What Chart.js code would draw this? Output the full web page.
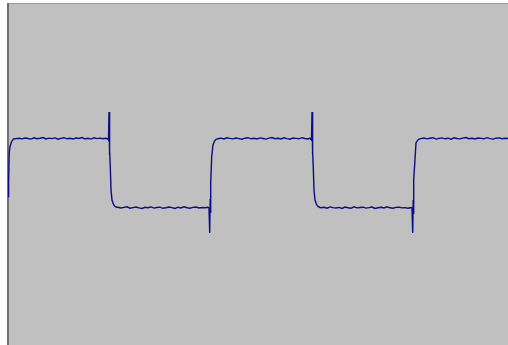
<!DOCTYPE html>
<html>
<head>
<meta charset="utf-8">
<script src="https://cdn.jsdelivr.net/npm/chart.js@4.4.1/dist/chart.umd.min.js"></script>
<style>
  html, body { margin: 0; padding: 0; background: #ffffff; }
  #scope { display: block; }
</style>
</head>
<body>
<canvas id="scope" width="508" height="345"></canvas>
<script>
// time axis (us) and trace (mV)
const traceTime = [
  0.3, 0.6, 1.2, 2, 3.5, 5.5,
  8, 11, 14, 17, 20, 23, 26, 29, 32, 35, 38, 41, 44, 47, 50, 53, 56, 59, 62, 65, 68, 71, 74, 77, 80, 83, 86, 89, 92, 95, 98, 100,
  100.5, 101, 101.3, 101.6, 101.9, 102.3, 103, 104, 105.5, 107, 109,
  110, 113, 116, 119, 122, 125, 128, 131, 134, 137, 140, 143, 146, 149, 152, 155, 158, 161, 164, 167, 170, 173, 176, 179, 182, 185, 188, 191, 194, 197, 200,
  201, 201.5, 201.9, 202.2, 202.5, 202.9, 203.7, 205, 206.5, 208,
  210, 213, 216, 219, 222, 225, 228, 231, 234, 237, 240, 243, 246, 249, 252, 255, 258, 261, 264, 267, 270, 273, 276, 279, 282, 285, 288, 291, 294, 297, 300, 302,
  303.5, 304, 304.3, 304.6, 304.9, 305.3, 306, 307, 308.5, 310, 312,
  313, 316, 319, 322, 325, 328, 331, 334, 337, 340, 343, 346, 349, 352, 355, 358, 361, 364, 367, 370, 373, 376, 379, 382, 385, 388, 391, 394, 397, 400, 403,
  404, 404.5, 404.9, 405.2, 405.5, 405.9, 406.7, 408, 409.5, 411,
  413, 416, 419, 422, 425, 428, 431, 434, 437, 440, 443, 446, 449, 452, 455, 458, 461, 464, 467, 470, 473, 476, 479, 482, 485, 488, 491, 494, 497, 500
];
const traceMv = [
  -237, -100, 200, 263, 313, 340,
  344, 348, 341, 350, 345, 339, 352, 343, 347, 355, 340, 349, 344, 351, 338, 346, 353, 342, 348, 340, 350, 345, 354, 341, 347, 339, 352, 344, 349, 342, 347, 340,
  330, 610, 180, 390, 230, 60, -170, -270, -315, -335, -345,
  -342, -350, -344, -338, -352, -346, -340, -349, -355, -343, -347, -339, -351, -345, -341, -353, -348, -340, -346, -354, -342, -349, -338, -347, -352, -344, -340, -350, -345, -348, -343,
  -350, -420, -600, -260, -400, -100, 163, 280, 320, 337,
  343, 349, 340, 352, 346, 341, 350, 344, 338, 348, 353, 342, 347, 340, 351, 345, 339, 349, 355, 343, 347, 341, 352, 344, 338, 350, 346, 342, 353, 345, 340, 348,
  330, 610, 190, 380, 220, 50, -170, -270, -315, -335, -345,
  -348, -343, -352, -339, -346, -350, -344, -355, -341, -347, -353, -338, -349, -345, -342, -351, -346, -340, -354, -347, -343, -350, -338, -348, -352, -344, -341, -349, -346, -353, -345,
  -350, -420, -600, -270, -410, -60, 90, 300, 325, 338,
  344, 350, 341, 347, 353, 339, 346, 351, 342, 348, 338, 352, 345, 341, 349, 355, 343, 347, 340, 350, 346, 342, 353, 344, 339, 348, 351, 343, 347, 345
];
const timeRange = [0, 500];
const mvRange = [-1720, 1690];

const puntos = traceTime.map((t, i) => ({ x: t, y: traceMv[i] }));

// fondo gris del osciloscopio con su marco
const pantalla = {
  id: 'pantalla',
  beforeDraw(chart) {
    const { ctx, chartArea: a } = chart;
    ctx.save();
    ctx.fillStyle = '#c0c0c0';
    ctx.fillRect(a.left, a.top, a.right - a.left, a.bottom - a.top);
    ctx.fillStyle = '#9c9c9c';
    ctx.fillRect(a.left - 1, a.top - 1, a.right - a.left + 1, 1);
    ctx.fillStyle = '#707070';
    ctx.fillRect(a.left - 1, a.top - 1, 2, a.bottom - a.top + 1);
    ctx.restore();
  }
};

new Chart(document.getElementById('scope').getContext('2d'), {
  type: 'line',
  data: {
    datasets: [{
      data: puntos,
      borderColor: '#0c0c84',
      borderWidth: 1.4,
      pointRadius: 0,
      tension: 0,
      fill: false
    }]
  },
  options: {
    responsive: false,
    animation: false,
    layout: { padding: { left: 8, top: 4, right: 0, bottom: 0 } },
    plugins: { legend: { display: false }, tooltip: { enabled: false } },
    scales: {
      x: { type: 'linear', min: timeRange[0], max: timeRange[1], display: false },
      y: { min: mvRange[0], max: mvRange[1], display: false }
    }
  },
  plugins: [pantalla]
});
</script>
</body>
</html>
